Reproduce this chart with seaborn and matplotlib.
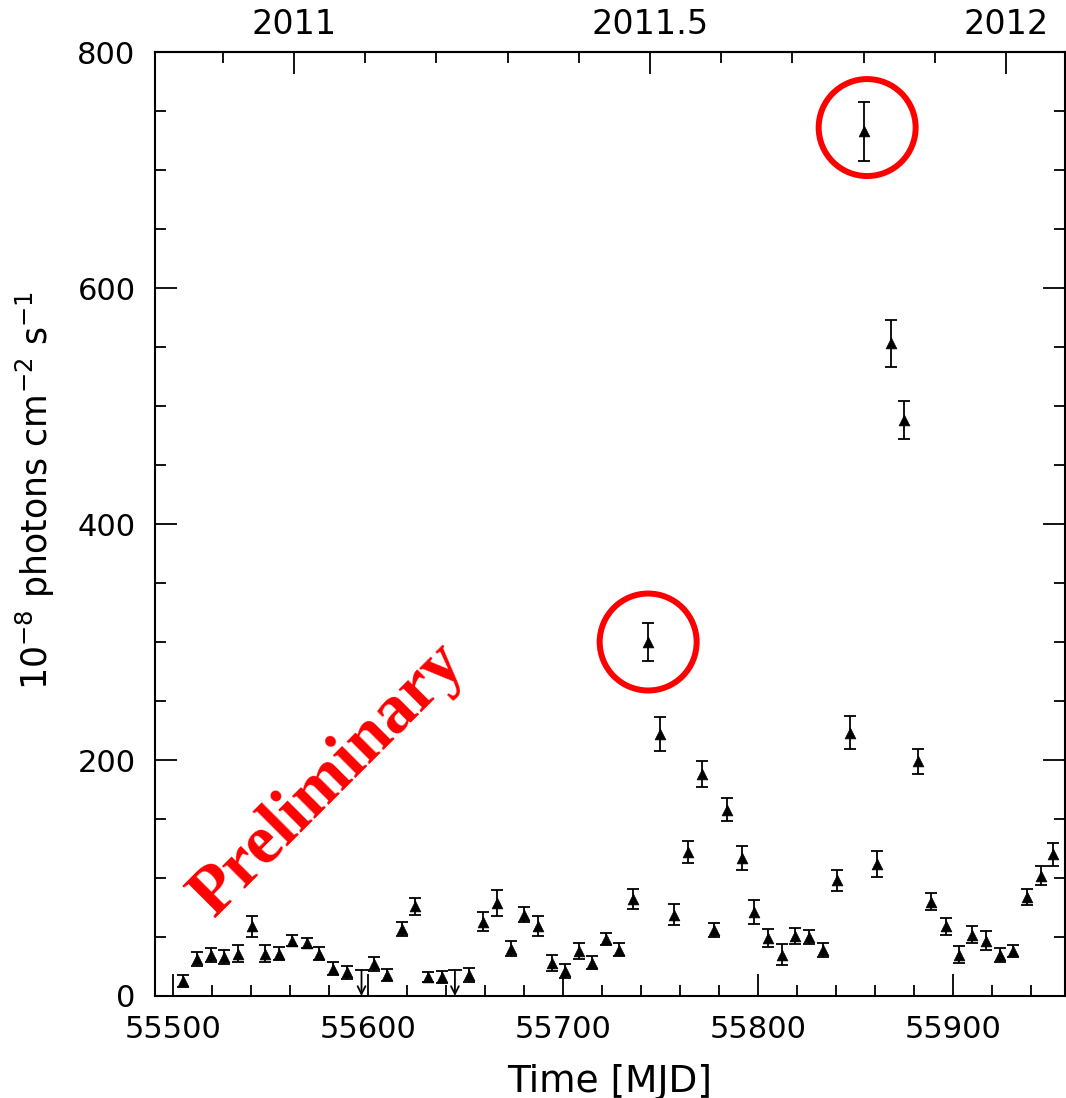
import numpy as np
import pandas as pd
import matplotlib
matplotlib.use('Agg')
import matplotlib.pyplot as plt
from matplotlib.ticker import MultipleLocator, FixedLocator
import seaborn as sns

# weekly light curve values
mjd = [55505.3, 55512.1, 55519.5, 55526.3, 55533.2, 55540.3, 55547.2, 55554.4, 55561.2, 55568.5,
       55574.9, 55582.2, 55589.1, 55603.0, 55609.9, 55617.3, 55624.1, 55631.0, 55638.1, 55652.0,
       55658.8, 55666.3, 55673.2, 55680.2, 55687.0, 55694.2, 55701.0, 55708.2, 55715.0, 55722.1,
       55728.9, 55736.1, 55743.4, 55749.7, 55756.9, 55764.0, 55771.1, 55777.6, 55784.0, 55791.6,
       55797.9, 55805.3, 55812.2, 55819.0, 55826.2, 55833.5, 55840.4, 55847.2, 55854.4, 55861.2,
       55868.0, 55874.9, 55881.9, 55888.7, 55896.3, 55903.1, 55910.0, 55917.0, 55924.1, 55930.9,
       55938.1, 55944.9, 55951.4]
flux = [13, 31, 35, 33, 36, 59, 36, 36, 47, 45,
        36, 23, 20, 27, 18, 57, 76, 16, 16, 18,
        63, 79, 40, 69, 59, 28, 21, 38, 28, 48,
        39, 82, 300, 222, 69, 122, 188, 56, 158, 117,
        71, 49, 35, 51, 50, 39, 98, 223, 733, 112,
        553, 488, 199, 80, 59, 35, 52, 47, 35, 38,
        84, 102, 120]
flux_err = [5, 6, 6, 6, 7, 9, 7, 5.5, 5, 4.5,
            5.5, 5.5, 5.5, 6, 5, 6, 7, 4, 5, 6,
            8, 11, 6.5, 6.5, 8.5, 6.5, 6, 6.5, 5.5, 5,
            5.5, 8.5, 16, 14.5, 9, 9, 11, 6, 10, 10,
            10, 7.5, 9, 7, 6, 6, 9, 14, 25, 11,
            20, 16, 10.5, 7, 7.5, 7, 7.5, 8, 6, 5,
            7, 8, 10]

# upper limits
ul_mjd = [55596.7, 55644.6]
ul_flux = [22, 22]

# highlighted flares
circle_mjd = [55743.7, 55856.0]
circle_flux = [300, 736]

df = pd.DataFrame({'mjd': mjd, 'flux': flux, 'err': flux_err})

sns.set_theme(style='ticks')
plt.rcParams['font.family'] = ['DejaVu Sans']
plt.rcParams['text.color'] = 'black'
plt.rcParams['axes.labelcolor'] = 'black'
plt.rcParams['xtick.color'] = 'black'
plt.rcParams['ytick.color'] = 'black'

fig = plt.figure(figsize=(10.66, 10.98), dpi=100)
ax = fig.add_axes([0.1454, 0.0929, 0.8532, 0.8597])

ax.errorbar(df['mjd'], df['flux'], yerr=df['err'], fmt='none', ecolor='black',
            elinewidth=1.3, capsize=4.5, capthick=1.3, zorder=2)
sns.scatterplot(data=df, x='mjd', y='flux', marker='^', s=60, color='black',
                edgecolor='black', linewidth=0.5, ax=ax, zorder=3)

# upper limits: bar on top, arrow down
for x, u in zip(ul_mjd, ul_flux):
    ax.plot([x], [u], marker='_', markersize=9.5, mew=1.3, color='black')
    ax.annotate('', xy=(x, 0), xytext=(x, u),
                arrowprops=dict(arrowstyle='->', lw=1.3, color='black',
                                shrinkA=0, shrinkB=0, mutation_scale=14))

ax.scatter(circle_mjd, circle_flux, s=4875, facecolors='none', edgecolors='red',
           linewidths=4.3, zorder=4, clip_on=False)

ax.text(55580.0, 183, 'Preliminary', rotation=45, rotation_mode='anchor',
        ha='center', va='center', color='red', fontsize=50, fontweight='bold',
        family=['Liberation Serif', 'DejaVu Serif'])

ax.set_xlim(55490.8, 55957.2)
ax.set_ylim(0, 800)

ax.xaxis.set_major_locator(MultipleLocator(100))
ax.xaxis.set_minor_locator(MultipleLocator(20))
ax.yaxis.set_major_locator(MultipleLocator(200))
ax.yaxis.set_minor_locator(MultipleLocator(50))

ax.tick_params(which='both', direction='in', top=False, right=True, labelright=False,
               width=1.3, colors='black', labelsize=22, pad=14)
ax.tick_params(which='major', length=16)
ax.tick_params(which='minor', length=8)
for s in ax.spines.values():
    s.set_linewidth(1.5)
    s.set_color('black')

ax.set_xlabel('Time [MJD]', fontsize=27, labelpad=14)
ax.set_ylabel(r'10$^{-8}$ photons cm$^{-2}$ s$^{-1}$', fontsize=25)
ax.yaxis.set_label_coords(-0.108, 0.536)


def mjd2yr(m):
    return 2011 + (np.asarray(m) - 55562.0) / 365.25


def yr2mjd(y):
    return 55562.0 + (np.asarray(y) - 2011) * 365.25


top = ax.secondary_xaxis('top', functions=(mjd2yr, yr2mjd))
top.xaxis.set_major_locator(FixedLocator([2011, 2011.5, 2012]))
top.xaxis.set_minor_locator(MultipleLocator(0.1))
top.set_xticklabels(['2011', '2011.5', '2012'],
                    family=['Liberation Sans Narrow', 'DejaVu Sans'])
top.tick_params(which='both', direction='in', width=1.3, labelsize=24, pad=8,
                colors='black')
top.tick_params(which='major', length=16)
top.tick_params(which='minor', length=8)
top.spines['top'].set_linewidth(1.5)

fig.savefig('out.png', dpi=100)
